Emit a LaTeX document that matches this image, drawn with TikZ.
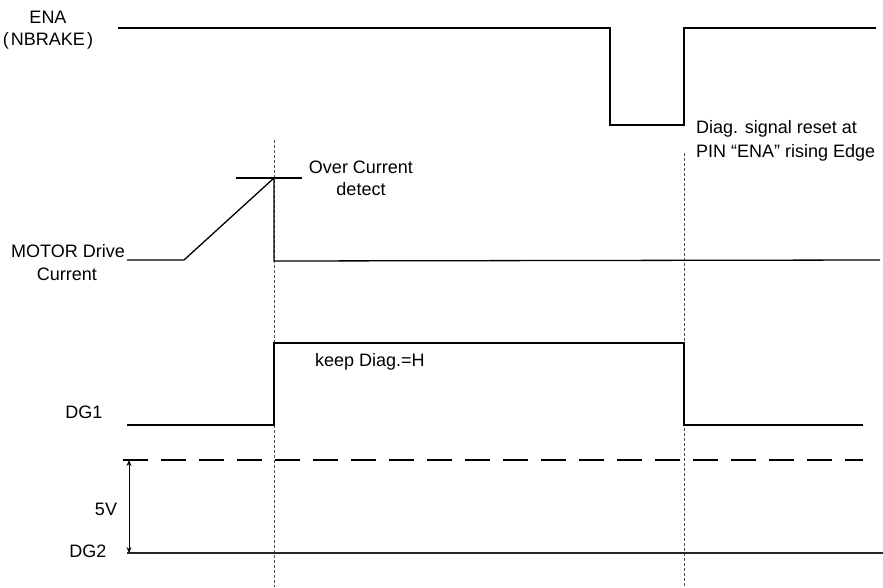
\documentclass[tikz,border=0pt]{standalone}
\usepackage{fontspec}
\setmainfont{Liberation Sans}
\usetikzlibrary{arrows.meta}
\begin{document}
\begin{tikzpicture}[x=1pt,y=-1pt,
  sig/.style={line width=1.3pt,line join=miter},
  guide/.style={line width=0.6pt,dash pattern=on 3pt off 2pt,gray!60!black},
  lvl/.style={line width=1.3pt,dash pattern=on 25pt off 13pt},
  lbl/.style={font=\fontsize{18}{21}\selectfont,inner sep=0pt,anchor=base}]
\useasboundingbox (0,0) rectangle (883,587);
% vertical guides
\draw[guide] (274,140) -- (274,587);
\draw[guide] (684,153) -- (684,587);
% ENA
\draw[sig] (118,28) -- (610,28) -- (610,125) -- (684,125) -- (684,28) -- (876,28);
\node[lbl] (ena) at (48,23) {ENA};
\node[lbl] (nbrake) at (48,45) {(\hspace{2pt}NBRAKE\hspace{2pt})};
\node[lbl,anchor=base west] (reset1) at (696,133) {Diag. signal reset at};
\node[lbl,anchor=base west] (reset2) at (696,157) {PIN “ENA” rising Edge};
% Motor current
\draw[sig] (127,260) -- (184,260) -- (274,178) -- (274,261) -- (880,260);
\draw[sig] (236,178) -- (302,178);
\node[lbl] (oc1) at (361,173) {Over Current};
\node[lbl] (oc2) at (361,195) {detect};
\node[lbl,anchor=base west] (motor) at (11,257) {MOTOR Drive};
\node[lbl] (cur) at (67,280) {Current};
% DG1
\draw[sig] (127,425) -- (274,425) -- (274,343) -- (684,343) -- (684,425) -- (863,425);
\node[lbl,anchor=base west] (keep) at (315,366) {keep Diag.=H};
\node[lbl] (dg1) at (84,418) {DG1};
% 5V level and DG2
\draw[lvl] (123,460) -- (863,460);
\draw[sig,gray!30!black] (127,553) -- (883,553);
\coordinate (top) at (129,460);
\coordinate (bot) at (129,553);
\draw[line width=0.7pt,{Stealth[length=6pt,width=5pt]}-{Stealth[length=6pt,width=5pt]}] (top) -- (bot);
\node[lbl] (v5) at (106,515) {5V};
\node[lbl] (dg2) at (88,557) {DG2};
\end{tikzpicture}
\end{document}
